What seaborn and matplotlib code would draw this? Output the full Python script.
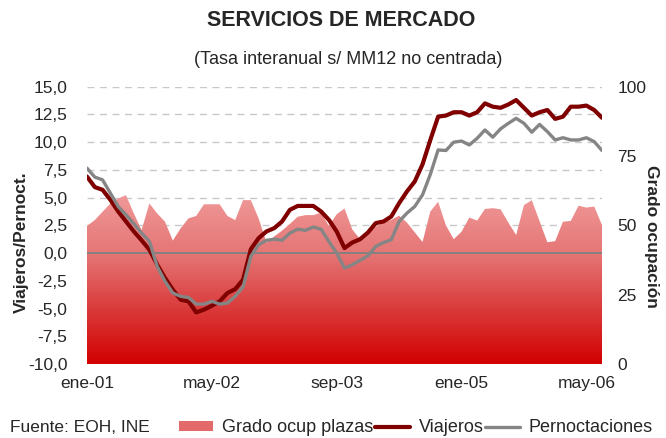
import matplotlib
matplotlib.use("Agg")
import matplotlib.pyplot as plt
import numpy as np
import pandas as pd
import seaborn as sns
from matplotlib.colors import LinearSegmentedColormap
from matplotlib.lines import Line2D
from matplotlib.patches import Patch

# monthly series ene-01 .. jul-06
months = pd.date_range("2001-01-01", "2006-07-01", freq="MS")
month_names = ["ene", "feb", "mar", "abr", "may", "jun", "jul", "ago", "sep", "oct", "nov", "dic"]

viajeros = [6.9, 5.95, 5.7, 4.8, 3.75, 2.85, 1.95, 1.15, 0.3, -1.05,
            -2.25, -3.3, -4.2, -4.35, -5.35, -5.1, -4.75, -4.35, -3.6, -3.25,
            -2.4, 0.35, 1.35, 1.95, 2.25, 2.85, 3.9, 4.25, 4.25, 4.25,
            3.75, 3.0, 1.95, 0.45, 0.95, 1.25, 1.85, 2.7, 2.85, 3.3,
            4.5, 5.55, 6.45, 8.0, 10.2, 12.3, 12.4, 12.7, 12.7, 12.4,
            12.7, 13.5, 13.2, 13.1, 13.4, 13.8, 13.1, 12.4, 12.7, 12.9,
            12.1, 12.3, 13.2, 13.2, 13.3, 12.9, 12.2]

pernoctaciones = [7.66, 6.85, 6.6, 5.4, 4.2, 3.45, 2.65, 1.8, 1.05, -1.2,
                  -2.55, -3.6, -3.9, -4.0, -4.6, -4.6, -4.35, -4.6, -4.5, -3.9,
                  -3.05, -0.3, 0.75, 1.15, 1.25, 1.15, 1.8, 2.15, 2.05, 2.35,
                  2.15, 1.05, 0.0, -1.35, -1.05, -0.65, -0.25, 0.6, 0.95, 1.2,
                  2.85, 3.6, 4.2, 5.25, 7.1, 9.3, 9.25, 10.0, 10.1, 9.75,
                  10.35, 11.1, 10.45, 11.2, 11.7, 12.15, 11.7, 10.9, 11.6, 10.95,
                  10.2, 10.4, 10.2, 10.2, 10.4, 10.05, 9.25]

grado_ocup = [49.8, 51.9, 54.9, 57.9, 59.7, 60.9, 54.3, 48.3, 57.9, 54.3,
              51.3, 44.5, 48.9, 52.5, 53.4, 57.6, 57.6, 57.6, 53.4, 51.9,
              59.1, 59.1, 52.5, 43.8, 46.0, 48.1, 50.5, 53.1, 53.7, 53.7,
              54.6, 49.8, 54.0, 56.1, 48.5, 45.0, 47.7, 49.5, 51.0, 52.0,
              53.5, 51.0, 47.5, 44.0, 55.0, 58.5, 50.0, 45.0, 47.7, 52.8,
              51.7, 55.9, 56.2, 55.8, 51.0, 46.5, 57.3, 59.1, 51.5, 43.9,
              44.3, 51.3, 51.6, 57.1, 56.4, 56.8, 50.1]

left_ticks = [-10, -7.5, -5, -2.5, 0, 2.5, 5, 7.5, 10, 12.5, 15]
right_ticks = [0, 25, 50, 75, 100]
xtick_every = 16

df = pd.DataFrame({
    "idx": np.arange(len(months)),
    "Viajeros": viajeros,
    "Pernoctaciones": pernoctaciones,
    "Grado": grado_ocup,
})

sns.set_theme(style="white")
plt.rcParams["font.family"] = ["Liberation Sans", "DejaVu Sans"]

fig = plt.figure(figsize=(6.66, 4.38), dpi=100)
rect = [0.1306, 0.169, 0.7733, 0.633]

# bottom layer: grid + left ticks
ax = fig.add_axes(rect)
# middle layer: occupancy area on right axis
ax2 = ax.twinx()
# top layer: lines, sharing left scale
ax3 = fig.add_axes(rect, sharex=ax, sharey=ax)
ax.set_zorder(1)
ax2.set_zorder(2)
ax3.set_zorder(3)
ax2.patch.set_visible(False)
ax3.patch.set_visible(False)

for a in (ax, ax2, ax3):
    for s in a.spines.values():
        s.set_visible(False)

# gradient area
x = df["idx"].to_numpy()
poly = ax2.fill_between(x, df["Grado"], 0, facecolor="none", edgecolor="none")
cmap = LinearSegmentedColormap.from_list(
    "ocup", [(0, "#D20000"), (0.35, "#DB3F3F"), (0.65, "#E57575"), (1, "#F09898")])
grad = np.linspace(0, 1, 256).reshape(-1, 1)
im = ax2.imshow(grad, cmap=cmap, origin="lower", aspect="auto",
                extent=[0, x[-1], 0, max(grado_ocup)], interpolation="bicubic")
im.set_clip_path(poly.get_paths()[0], transform=ax2.transData)

# lines
sns.lineplot(data=df, x="idx", y="Viajeros", ax=ax3, color="#800000", lw=3.0, zorder=4)
sns.lineplot(data=df, x="idx", y="Pernoctaciones", ax=ax3, color="#858585", lw=2.4, zorder=5)
ax3.axhline(0, color="#808080", lw=1.3, zorder=3)

ax.set_xlim(0, x[-1])
ax.set_ylim(-10, 15)
ax2.set_ylim(0, 100)

ax.set_yticks(left_ticks)
ax.set_yticklabels([f"{v:.1f}".replace(".", ",") for v in left_ticks], fontsize=12.5)
ax.yaxis.grid(True, color="#C8C8C8", ls=(0, (5, 4)), lw=1)
ax.xaxis.grid(False)
ax2.set_yticks(right_ticks)
ax2.set_yticklabels([str(v) for v in right_ticks], fontsize=12.5)

xt = x[::xtick_every]
ax.set_xticks(xt)
ax.set_xticklabels([f"{month_names[months[i].month - 1]}-{months[i].strftime('%y')}" for i in xt],
                   fontsize=12.5)

ax.tick_params(axis="y", length=0, pad=14)
ax.tick_params(axis="x", length=0, pad=9)
ax2.tick_params(axis="y", length=0, pad=11)
ax3.tick_params(left=False, bottom=False, labelleft=False, labelbottom=False)
ax3.set_xlabel("")
ax3.set_ylabel("")

ax.set_ylabel("Viajeros/Pernoct.", fontsize=12.5, fontweight="bold")
ax.yaxis.set_label_coords(-0.112, 0.44)
ax2.set_ylabel("Grado ocupación", fontsize=12.5, fontweight="bold", rotation=-90, va="center")
ax2.yaxis.set_label_coords(1.097, 0.46)
ax.set_xlabel("")

fig.text(341 / 666, 1 - 20 / 438, "SERVICIOS DE MERCADO", ha="center", va="center",
         fontsize=15.5, fontweight="bold")
fig.text(348 / 666, 1 - 60 / 438, "(Tasa interanual s/ MM12 no centrada)", ha="center", va="center",
         fontsize=13)
fig.text(10 / 666, 1 - 428 / 438, "Fuente: EOH, INE", ha="left", va="center", fontsize=12.5)

handles = [Patch(facecolor="#E26A6A", edgecolor="none"),
           Line2D([], [], color="#800000", lw=3),
           Line2D([], [], color="#858585", lw=2.4)]
fig.legend(handles, ["Grado ocup plazas", "Viajeros", "Pernoctaciones"],
           loc="center left", bbox_to_anchor=(179 / 666, 1 - 428 / 438), ncol=3,
           frameon=False, fontsize=13, handlelength=1.9, handleheight=0.5,
           handletextpad=0.5, columnspacing=0.1, borderpad=0, borderaxespad=0)

fig.savefig("out.png", dpi=100)
